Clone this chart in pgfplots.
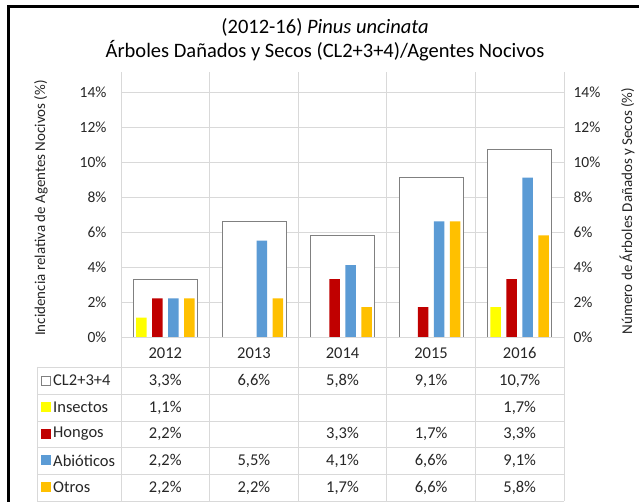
\documentclass[border=0pt]{standalone}
\usepackage{pgfplots}
\pgfplotsset{compat=1.18}
\usepackage{fontspec}
\setmainfont{Carlito}
\definecolor{cIns}{HTML}{FFFF00}
\definecolor{cHon}{HTML}{C00000}
\definecolor{cAbi}{HTML}{5B9BD5}
\definecolor{cOtr}{HTML}{FFC000}
\definecolor{cGrid}{HTML}{D9D9D9}
\definecolor{cBox}{HTML}{808080}
\definecolor{cTxt}{HTML}{262626}
\newcommand\fs[1]{\fontsize{#1}{#1}\selectfont}
\begin{document}
\begin{tikzpicture}
\path[use as bounding box] (0,0) rectangle (639pt,502pt);
\begin{axis}[at={(121pt,165pt)}, anchor=south west, scale only axis,
 width=443pt, height=265pt,
 xmin=-0.5, xmax=4.5, ymin=0, ymax=15.14,
 axis line style={draw=none}, major tick length=0pt, minor tick length=0pt,
 ytick={0,2,...,14},
 /pgf/number format/assume math mode=true,
 yticklabel={\pgfmathprintnumber{\tick}\%},
 yticklabel style={font=\fs{15.5}, text=cTxt, xshift=-11pt},
 xtick={0,1,2,3,4}, xticklabels={2012,2013,2014,2015,2016},
 xticklabel style={font=\fs{16.5}, text=cTxt, anchor=center, yshift=-16pt},
 minor xtick={-0.5,0.5,1.5,2.5,3.5,4.5},
 ymajorgrids, xminorgrids,
 grid style={cGrid, line width=0.8pt},
]
\addplot[ybar, bar width=64pt, bar shift=0pt, fill=white, draw=cBox, line width=0.8pt]
 coordinates {(0,3.3)(1,6.6)(2,5.8)(3,9.1)(4,10.7)};
\end{axis}
\begin{axis}[at={(121pt,165pt)}, anchor=south west, scale only axis,
 width=443pt, height=265pt,
 xmin=-0.5, xmax=4.5, ymin=0, ymax=15.14,
 axis line style={draw=none}, major tick length=0pt,
 xtick=\empty, ytick={0,2,...,14}, yticklabel pos=right,
 /pgf/number format/assume math mode=true,
 yticklabel={\pgfmathprintnumber{\tick}\%},
 yticklabel style={font=\fs{15.5}, text=cTxt, xshift=6pt},
 ybar, bar width=10.5pt,
]
\addplot[fill=cIns, draw=none, bar shift=-24pt] coordinates {(0,1.1)(4,1.7)};
\addplot[fill=cHon, draw=none, bar shift=-8pt] coordinates {(0,2.2)(2,3.3)(3,1.7)(4,3.3)};
\addplot[fill=cAbi, draw=none, bar shift=8pt] coordinates {(0,2.2)(1,5.5)(2,4.1)(3,6.6)(4,9.1)};
\addplot[fill=cOtr, draw=none, bar shift=24pt] coordinates {(0,2.2)(1,2.2)(2,1.7)(3,6.6)(4,5.8)};
\end{axis}
% data table
\foreach \x in {121,209.6,298.2,386.8,475.4,564} {\draw[cGrid, line width=0.8pt] (\x pt,165pt) -- (\x pt,1pt);}
\draw[cGrid, line width=0.8pt] (37pt,135pt) -- (37pt,1pt);
\foreach \y in {135,108,81,55,28,1} {\draw[cGrid, line width=0.8pt] (37pt,\y pt) -- (564pt,\y pt);}
% row headers
\draw[cBox, fill=white, line width=0.6pt] (41pt,116.5pt) rectangle (50pt,125.5pt);
\fill[cIns] (41pt,89.5pt) rectangle (51pt,99.5pt);
\fill[cHon] (41pt,63pt) rectangle (51pt,73pt);
\fill[cAbi] (41pt,36.5pt) rectangle (51pt,46.5pt);
\fill[cOtr] (41pt,9.5pt) rectangle (51pt,19.5pt);
\begin{scope}[every node/.style={font=\fs{16.5}, text=cTxt, inner sep=0pt}]
\node[anchor=west] at (53pt,121.5pt) {CL2+3+4};
\node[anchor=west] at (53pt,94.5pt) {Insectos};
\node[anchor=west] at (53pt,68pt) {Hongos};
\node[anchor=west] at (53pt,41.5pt) {Abióticos};
\node[anchor=west] at (53pt,14.5pt) {Otros};
% values
\node at (165.3pt,121.5pt) {3,3\%};
\node at (253.9pt,121.5pt) {6,6\%};
\node at (342.5pt,121.5pt) {5,8\%};
\node at (431.1pt,121.5pt) {9,1\%};
\node at (519.7pt,121.5pt) {10,7\%};
\node at (165.3pt,94.5pt) {1,1\%};
\node at (519.7pt,94.5pt) {1,7\%};
\node at (165.3pt,68pt) {2,2\%};
\node at (342.5pt,68pt) {3,3\%};
\node at (431.1pt,68pt) {1,7\%};
\node at (519.7pt,68pt) {3,3\%};
\node at (165.3pt,41.5pt) {2,2\%};
\node at (253.9pt,41.5pt) {5,5\%};
\node at (342.5pt,41.5pt) {4,1\%};
\node at (431.1pt,41.5pt) {6,6\%};
\node at (519.7pt,41.5pt) {9,1\%};
\node at (165.3pt,14.5pt) {2,2\%};
\node at (253.9pt,14.5pt) {2,2\%};
\node at (342.5pt,14.5pt) {1,7\%};
\node at (431.1pt,14.5pt) {6,6\%};
\node at (519.7pt,14.5pt) {5,8\%};
\end{scope}
% titles and axis labels
\node[font=\fs{20.5}] at (325pt,475pt) {(2012-16) \textit{Pinus uncinata}};
\node[font=\fs{20.5}] at (325pt,451pt) {Árboles Dañados y Secos (CL2+3+4)/Agentes Nocivos};
\node[font=\fs{15}, text=cTxt, rotate=90] at (41pt,294pt) {Incidencia relativa de Agentes Nocivos (\%)};
\node[font=\fs{15}, text=cTxt, rotate=90] at (627pt,291pt) {Número de Árboles Dañados y Secos (\%)};
% frame
\draw[black, line width=3pt] (8pt,0pt) -- (8pt,495pt) -- (639pt,495pt);
\end{tikzpicture}
\end{document}
